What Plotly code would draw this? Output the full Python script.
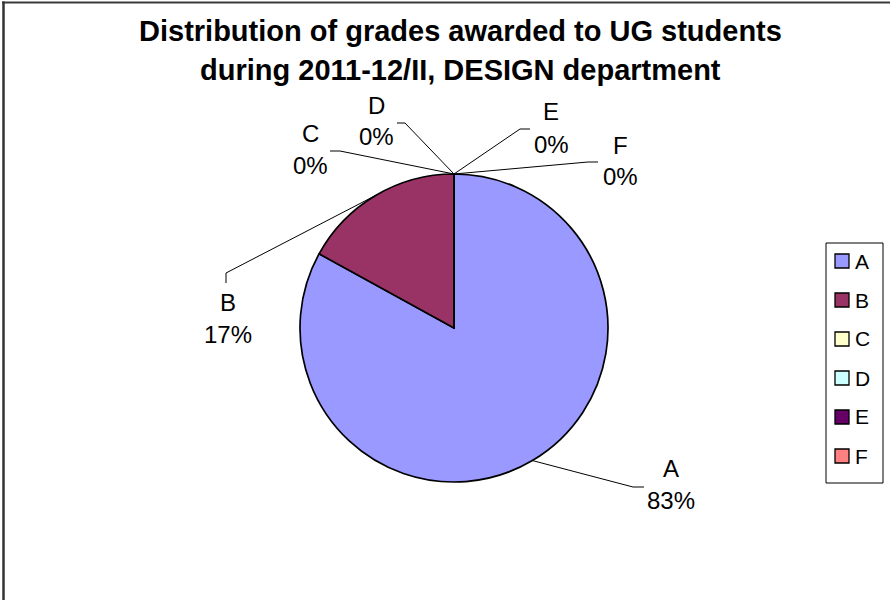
import plotly.graph_objects as go
import math

# ---------------- data ----------------
grades = ["A", "B", "C", "D", "E", "F"]
shares = [83, 17, 0, 0, 0, 0]
slice_colors = ["#9999FF", "#993366", "#FFFFCC", "#CCFFFF", "#660066", "#FF8080"]
title_lines = ["Distribution of grades awarded to UG students",
               "during 2011-12/II, DESIGN department"]

# ---------------- layout constants (pixels) ----------------
W, H = 890, 600
CX, CY, R = 454, 328, 154
FONT = "Liberation Sans, Arial, sans-serif"

# label block centre (x, name-line y) and leader start / elbow, per category
label_layout = {
    "A": dict(tx=671, ty=468, start=(644, 487), elbow=(633, 487)),
    "B": dict(tx=228, ty=302, start=(226, 283), elbow=(226, 273)),
    "C": dict(tx=310, ty=133, start=(330, 151), elbow=(340, 151)),
    "D": dict(tx=376, ty=105, start=(397, 123), elbow=(405, 123)),
    "E": dict(tx=551, ty=112, start=(530, 129), elbow=(520, 129)),
    "F": dict(tx=620, ty=145, start=(598, 162), elbow=(588, 162)),
}
PCT_DY = 32
LEG_LEFT, LEG_RIGHT, LEG_TOP, LEG_BOTTOM = 826, 883, 243, 483
LEG_Y0, LEG_DY, LEG_SQ = 261, 39, 14


def px(x):
    return x / W


def py(y):
    return 1 - y / H


total = sum(shares)

fig = go.Figure(go.Pie(
    labels=grades, values=shares, sort=False,
    direction="clockwise", rotation=0,
    marker=dict(colors=slice_colors, line=dict(color="black", width=1.7)),
    textinfo="none", hoverinfo="label+percent", showlegend=False,
    domain=dict(x=[px(CX - R), px(CX + R)], y=[py(CY + R), py(CY - R)]),
))

shapes = []
annotations = []

# title
for i, (line, ty) in enumerate(zip(title_lines, [31, 70])):
    annotations.append(dict(
        text=f"<b>{line}</b>", x=px(460), y=py(ty), xref="paper", yref="paper",
        xanchor="center", yanchor="middle", showarrow=False,
        font=dict(family=FONT, size=29, color="black")))

# data labels with leader lines
cum = 0
for g, v in zip(grades, shares):
    mid = (cum + v / 2) / total * 2 * math.pi
    cum += v
    ex = CX + R * math.sin(mid)
    ey = CY - R * math.cos(mid)
    lay = label_layout[g]
    (sx, sy), (bx, by) = lay["start"], lay["elbow"]
    shapes.append(dict(
        type="path", xref="paper", yref="paper", layer="below",
        path=f"M {px(sx)} {py(sy)} L {px(bx)} {py(by)} L {px(ex)} {py(ey)}",
        line=dict(color="black", width=1)))
    pct = round(100 * v / total)
    annotations.append(dict(
        text=g, x=px(lay["tx"]), y=py(lay["ty"]), xref="paper", yref="paper",
        xanchor="center", yanchor="middle", showarrow=False,
        font=dict(family=FONT, size=24, color="black")))
    annotations.append(dict(
        text=f"{pct}%", x=px(lay["tx"]), y=py(lay["ty"] + PCT_DY),
        xref="paper", yref="paper", xanchor="center", yanchor="middle",
        showarrow=False, font=dict(family=FONT, size=24, color="black")))

# legend (built from categories and colours)
shapes.append(dict(type="rect", xref="paper", yref="paper",
                   x0=px(LEG_LEFT), x1=px(LEG_RIGHT), y0=py(LEG_BOTTOM), y1=py(LEG_TOP),
                   line=dict(color="black", width=1), fillcolor="white"))
for i, (g, c) in enumerate(zip(grades, slice_colors)):
    yc = LEG_Y0 + LEG_DY * i
    shapes.append(dict(type="rect", xref="paper", yref="paper",
                       x0=px(835), x1=px(835 + LEG_SQ),
                       y0=py(yc + LEG_SQ / 2), y1=py(yc - LEG_SQ / 2),
                       line=dict(color="black", width=1.3), fillcolor=c))
    annotations.append(dict(
        text=g, x=px(853), y=py(yc), xref="paper", yref="paper",
        xanchor="left", yanchor="middle", showarrow=False,
        font=dict(family=FONT, size=21, color="black")))

# chart frame (top and left edges visible)
shapes.append(dict(type="line", xref="paper", yref="paper",
                   x0=px(2), x1=1, y0=py(2.5), y1=py(2.5),
                   line=dict(color="#3a3a3a", width=2)))
shapes.append(dict(type="line", xref="paper", yref="paper",
                   x0=px(3.5), x1=px(3.5), y0=0, y1=py(1.5),
                   line=dict(color="#333333", width=2.5)))

fig.update_layout(
    width=W, height=H, margin=dict(l=0, r=0, t=0, b=0),
    paper_bgcolor="white", plot_bgcolor="white",
    shapes=shapes, annotations=annotations, showlegend=False,
    font=dict(family=FONT),
)

fig.write_html("out.html",
               config={"displayModeBar": False},
               post_script="document.body.style.margin='0px';"
                           "document.body.style.overflow='hidden';")
